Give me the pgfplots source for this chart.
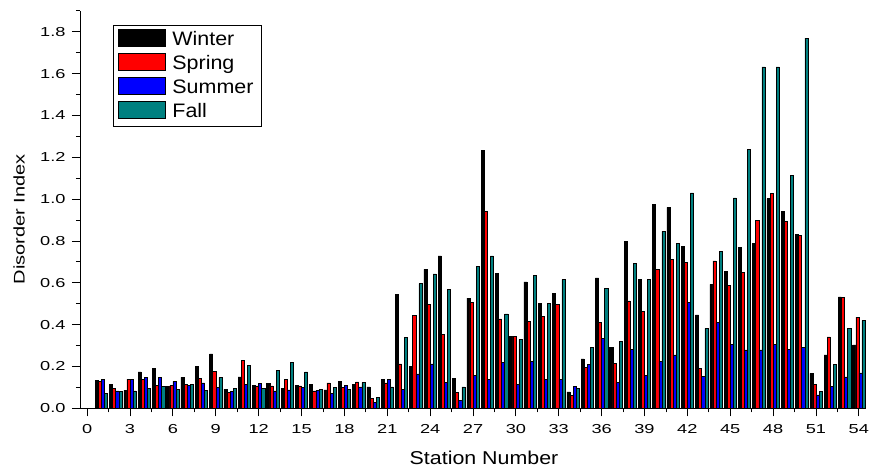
\documentclass[border=0pt]{standalone}
\usepackage{fontspec}
\setmainfont{Liberation Sans}[FakeStretch=1.15]
\newfontfamily\tickfont{Liberation Sans}[FakeStretch=1.4]
\newfontfamily\ylabfont{Liberation Sans}[FakeStretch=1.3]
\newfontfamily\legfont{Liberation Sans}[FakeStretch=1.1]
\usepackage{pgfplots}
\usepackage{pgfplotstable}
\pgfplotsset{compat=1.18}
\definecolor{fallteal}{RGB}{0,128,128}
\definecolor{sumblue}{RGB}{0,0,255}
\definecolor{sprred}{RGB}{255,0,0}

\pgfplotstableread{
st W Sp Su F
1 0.135 0.130 0.137 0.070
2 0.113 0.094 0.083 0.081
3 0.086 0.139 0.139 0.083
4 0.174 0.137 0.148 0.096
5 0.190 0.110 0.148 0.105
6 0.105 0.111 0.129 0.089
7 0.148 0.115 0.111 0.116
8 0.200 0.143 0.121 0.086
9 0.260 0.177 0.100 0.148
10 0.091 0.076 0.081 0.096
11 0.150 0.228 0.116 0.204
12 0.111 0.107 0.118 0.094
13 0.118 0.107 0.083 0.183
14 0.097 0.139 0.088 0.221
15 0.111 0.107 0.100 0.174
16 0.115 0.083 0.086 0.089
17 0.088 0.121 0.072 0.099
18 0.129 0.100 0.110 0.092
19 0.116 0.126 0.102 0.123
20 0.103 0.049 0.030 0.054
21 0.140 0.121 0.139 0.102
22 0.546 0.212 0.092 0.339
23 0.202 0.443 0.164 0.596
24 0.664 0.497 0.212 0.642
25 0.729 0.355 0.123 0.568
26 0.143 0.076 0.037 0.103
27 0.527 0.506 0.159 0.678
28 1.232 0.941 0.140 0.728
29 0.646 0.427 0.220 0.451
30 0.344 0.344 0.115 0.330
31 0.604 0.417 0.225 0.634
32 0.503 0.440 0.140 0.503
33 0.551 0.495 0.140 0.615
34 0.078 0.062 0.104 0.096
35 0.236 0.197 0.209 0.291
36 0.623 0.411 0.333 0.572
37 0.290 0.215 0.123 0.320
38 0.799 0.513 0.282 0.694
39 0.618 0.465 0.159 0.616
40 0.976 0.664 0.223 0.846
41 0.960 0.712 0.255 0.788
42 0.774 0.699 0.505 1.030
43 0.447 0.191 0.151 0.382
44 0.592 0.705 0.409 0.750
45 0.654 0.588 0.306 1.006
46 0.768 0.651 0.279 1.237
47 0.790 0.898 0.279 1.632
48 1.002 1.029 0.306 1.632
49 0.943 0.892 0.282 1.115
50 0.833 0.828 0.290 1.769
51 0.167 0.113 0.064 0.081
52 0.255 0.342 0.104 0.210
53 0.532 0.529 0.150 0.382
54 0.303 0.436 0.169 0.420
}\data

\begin{document}
\begin{tikzpicture}
\path[use as bounding box] (-80bp,-60.7bp) rectangle (799bp,408.3bp);
\begin{axis}[
  at={(0,0)}, anchor=south west,
  scale only axis,
  width=786bp, height=397.5bp,
  xmin=-0.5, xmax=54.5,
  ymin=0, ymax=1.9,
  axis lines=left,
  axis line style={-, line width=0.8bp, black},
  ybar=0pt, bar width=3.1bp,
  xtick={0,3,...,54},
  minor xtick={1.5,4.5,...,52.5},
  ytick={0,0.2,...,1.8},
  minor ytick={0.1,0.3,...,1.9},
  tick align=outside,
  major tick length=8bp,
  minor tick length=4bp,
  tick style={black, line width=0.8bp},
  /pgf/number format/assume math mode=true,
  ticklabel style={font=\tickfont\fontsize{13bp}{15bp}\selectfont},
  xticklabel style={yshift=-5bp},
  yticklabel style={xshift=-3bp, /pgf/number format/.cd, fixed, fixed zerofill, precision=1},
  xlabel={Station Number},
  ylabel={Disorder Index},
  xlabel style={font=\fontsize{18.6bp}{21bp}\selectfont, at={(axis description cs:0.514,0)}, anchor=center, yshift=-50bp},
  ylabel style={font=\ylabfont\fontsize{15.4bp}{18bp}\selectfont, at={(axis description cs:-0.0776,0.476)}, anchor=center, rotate=0},
  legend style={at={(axis description cs:0.042,0.964)}, anchor=north west,
    draw=black, line width=0.8bp, inner xsep=5bp, inner ysep=2.5bp,
    font=\legfont\fontsize{19.5bp}{22bp}\selectfont,
    nodes={text height=14bp, text depth=4bp, inner sep=3bp},
    row sep=0bp, column sep=3bp},
  legend cell align=left,
  legend image code/.code={\draw[#1, line width=1bp] (0bp,-6bp) rectangle (47bp,11bp);},
]
\addplot[draw=black, fill=black, line width=0.5bp] table[x=st, y=W]{\data};
\addplot[draw=black, fill=sprred, line width=0.5bp] table[x=st, y=Sp]{\data};
\addplot[draw=black, fill=sumblue, line width=0.5bp] table[x=st, y=Su]{\data};
\addplot[draw=black, fill=fallteal, line width=0.5bp] table[x=st, y=F]{\data};
\legend{Winter, Spring, Summer, Fall}
\end{axis}
\end{tikzpicture}
\end{document}
